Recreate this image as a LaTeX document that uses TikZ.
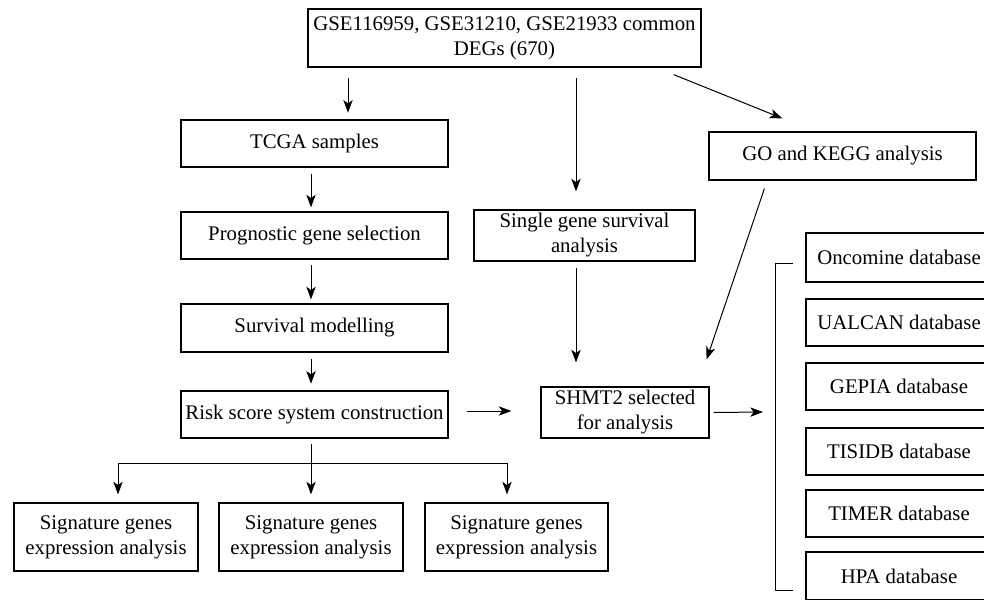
\documentclass[tikz,border=0pt]{standalone}
\usepackage{fontspec}
\setmainfont{Liberation Serif}
\usetikzlibrary{arrows.meta,calc}
\tikzset{
  box/.style={draw, line width=0.9pt, inner sep=1pt, align=center,
    font=\fontsize{15.6}{18.75}\selectfont},
  wh/.style 2 args={minimum width=#1*0.75pt, minimum height=#2*0.75pt},
  arr/.style={line width=0.75pt, -{Stealth[length=9.5pt,width=7pt,inset=2.5pt]}},
}
\begin{document}
\begin{tikzpicture}[x=0.75pt,y=-0.75pt]
  \path[use as bounding box, clip] (0,0) rectangle (984,599);
  \node[box, wh={393}{58}] (top) at (504.5,38) {GSE116959, GSE31210, GSE21933 common\\DEGs (670)};
  \node[box, wh={267}{47}] (tcga) at (314.5,143.5) {TCGA samples};
  \node[box, wh={267}{48}] (go) at (842.5,156) {GO and KEGG analysis};
  \node[box, wh={267}{47}] (prog) at (314.5,235.5) {Prognostic gene selection};
  \node[box, wh={221}{51}] (single) at (584.5,235.5) {Single gene survival\\analysis};
  \node[box, wh={267}{48}] (surv) at (314.5,328) {Survival modelling};
  \node[box, wh={267}{47}] (risk) at (314.5,414.5) {Risk score system construction};
  \node[box, wh={168}{51}] (shmt) at (625,412.5) {SHMT2 selected\\for analysis};
  \node[box, wh={184}{68}] (sig1) at (106,537) {Signature genes\\expression analysis};
  \node[box, wh={184}{68}] (sig2) at (311,537) {Signature genes\\expression analysis};
  \node[box, wh={183}{68}] (sig3) at (516.5,537) {Signature genes\\expression analysis};
  \node[box, wh={186}{49}] (onco) at (899,257.5) {Oncomine database};
  \node[box, wh={186}{47}] (ualcan) at (899,322.5) {UALCAN database};
  \node[box, wh={186}{47}] (gepia) at (899,386.5) {GEPIA database};
  \node[box, wh={186}{47}] (tisidb) at (899,451.5) {TISIDB database};
  \node[box, wh={186}{47}] (timer) at (899,513.5) {TIMER database};
  \node[box, wh={186}{48}] (hpa) at (899,576) {HPA database};
  \coordinate (fork) at (311,463);
  \coordinate (brk) at (775,412);
  \draw[arr, shorten <=8pt, shorten >=5pt] (top.south -| 348,0) -- (tcga.north -| 348,0);
  \draw[arr, shorten <=8pt, shorten >=13.5pt] (top.south -| 576,0) -- (single.north -| 576,0);
  \draw[arr] ($(top.south east)+(-28,7)$) -- ($(go.north west)+(74,-13)$);
  \draw[arr, shorten <=4.5pt, shorten >=3pt] (tcga.south -| 311,0) -- (prog.north -| 311,0);
  \draw[arr, shorten <=4pt, shorten >=3pt] (prog.south -| 311,0) -- (surv.north -| 311,0);
  \draw[arr, shorten <=4.5pt, shorten >=5pt] (surv.south -| 311,0) -- (risk.north -| 311,0);
  \draw[arr, shorten <=5pt, shorten >=18pt] (single.south -| 576,0) -- (shmt.north -| 576,0);
  \draw[arr] ($(go.south west)+(56,8)$) -- ($(shmt.north east)+(-3,-27)$);
  \draw[arr] ($(risk.east)+(18,-3.5)$) -- ($(shmt.west)+(-29,-1.5)$);
  \draw[arr] ($(shmt.east)+(4,0)$) -- ($(brk)+(-12,0)$);
  \draw[line width=0.75pt] (793,263) -- (775,263) -- (775,590) -- (793,590);
  \draw[arr, shorten <=3.75pt, shorten >=6pt] (risk.south -| sig2) -- (sig2.north);
  \draw[arr, shorten >=6pt] (fork) -| (sig1.north -| 118,0);
  \draw[arr, shorten >=6pt] (fork) -| (sig3.north -| 507,0);
\end{tikzpicture}
\end{document}
